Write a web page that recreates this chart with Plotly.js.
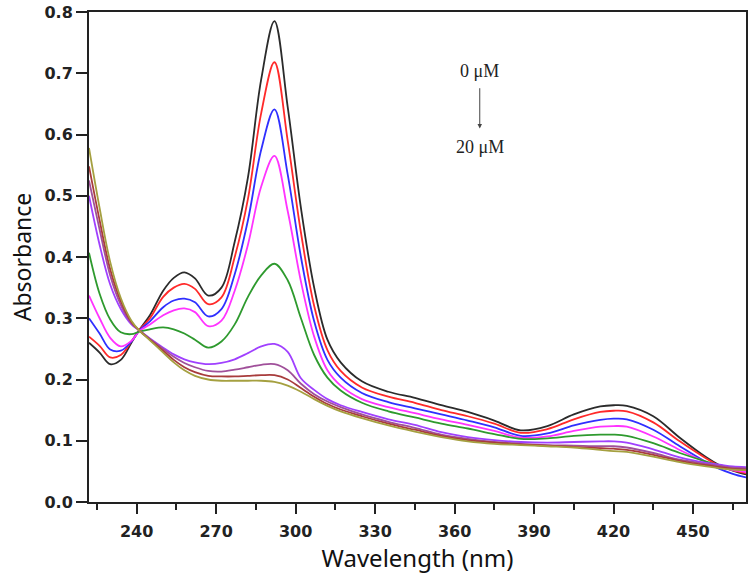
<!DOCTYPE html>
<html>
<head>
<meta charset="utf-8">
<script src="https://cdn.plot.ly/plotly-3.0.1.min.js"></script>
<style>html,body{margin:0;padding:0;background:#fff;}#chart{width:750px;height:577px;}</style>
</head>
<body>
<div id="chart"></div>
<script>
const wavelength = [222,226,230,234,238,241,245,250,254,258,262,267,272,277,282,287,292,297,302,307,312,317,325,335,345,355,365,375,385,395,405,415,420,425,435,445,455,460,465,470];

const conc0  = [0.260,0.244,0.225,0.232,0.260,0.281,0.305,0.345,0.366,0.375,0.365,0.337,0.350,0.425,0.530,0.690,0.785,0.645,0.480,0.350,0.265,0.228,0.197,0.180,0.170,0.158,0.147,0.133,0.117,0.124,0.143,0.156,0.158,0.157,0.140,0.105,0.073,0.060,0.051,0.045];
const conc1  = [0.270,0.255,0.236,0.240,0.262,0.281,0.300,0.335,0.350,0.356,0.348,0.323,0.334,0.400,0.495,0.635,0.718,0.590,0.440,0.320,0.248,0.214,0.187,0.172,0.162,0.150,0.140,0.128,0.113,0.119,0.135,0.147,0.149,0.148,0.130,0.099,0.071,0.059,0.052,0.047];
const conc2  = [0.300,0.275,0.249,0.247,0.262,0.280,0.295,0.318,0.329,0.332,0.326,0.303,0.315,0.372,0.460,0.575,0.641,0.535,0.400,0.295,0.232,0.203,0.178,0.163,0.153,0.143,0.133,0.122,0.108,0.112,0.125,0.134,0.136,0.135,0.118,0.091,0.065,0.054,0.046,0.040];
const conc3  = [0.337,0.300,0.268,0.254,0.263,0.279,0.290,0.305,0.313,0.316,0.310,0.287,0.296,0.345,0.420,0.515,0.565,0.475,0.360,0.270,0.215,0.190,0.168,0.155,0.145,0.135,0.126,0.116,0.105,0.107,0.116,0.123,0.124,0.123,0.107,0.085,0.065,0.057,0.052,0.049];
const conc4  = [0.407,0.340,0.298,0.277,0.274,0.278,0.282,0.285,0.282,0.275,0.265,0.252,0.262,0.290,0.335,0.370,0.389,0.362,0.300,0.240,0.203,0.182,0.162,0.148,0.138,0.128,0.120,0.111,0.103,0.104,0.108,0.110,0.110,0.108,0.096,0.080,0.066,0.060,0.056,0.055];
const conc5  = [0.500,0.420,0.355,0.315,0.290,0.280,0.267,0.252,0.241,0.233,0.228,0.225,0.227,0.233,0.243,0.254,0.258,0.245,0.202,0.183,0.168,0.158,0.147,0.135,0.126,0.114,0.106,0.101,0.098,0.097,0.098,0.099,0.099,0.097,0.086,0.073,0.064,0.061,0.058,0.057];
const conc6  = [0.525,0.445,0.370,0.322,0.292,0.280,0.266,0.250,0.237,0.227,0.220,0.214,0.213,0.216,0.220,0.224,0.225,0.215,0.193,0.176,0.164,0.155,0.143,0.131,0.121,0.110,0.103,0.098,0.095,0.093,0.092,0.091,0.091,0.089,0.080,0.069,0.062,0.059,0.056,0.055];
const conc7  = [0.548,0.460,0.380,0.328,0.294,0.280,0.265,0.247,0.232,0.220,0.212,0.206,0.205,0.205,0.206,0.207,0.207,0.200,0.186,0.172,0.160,0.151,0.140,0.128,0.118,0.108,0.101,0.097,0.094,0.092,0.090,0.088,0.087,0.085,0.077,0.067,0.060,0.057,0.054,0.053];
const conc8  = [0.578,0.480,0.392,0.333,0.296,0.280,0.264,0.244,0.228,0.215,0.206,0.200,0.198,0.198,0.198,0.198,0.196,0.190,0.180,0.168,0.157,0.148,0.137,0.125,0.115,0.106,0.099,0.095,0.093,0.091,0.089,0.085,0.083,0.082,0.074,0.065,0.058,0.055,0.053,0.052];

const seriesValues = [conc0,conc1,conc2,conc3,conc4,conc5,conc6,conc7,conc8];
const seriesNames = ['0 μM','2.5 μM','5 μM','7.5 μM','10 μM','12.5 μM','15 μM','17.5 μM','20 μM'];
const seriesColors = ['#2b2b2b','#ff2a2a','#2f2fff','#ff33ff','#2e9a2e','#a040ff','#a0509a','#a83c3c','#a5a040'];

const traces = seriesValues.map((v,i)=>({
  x: wavelength, y: v, type:'scatter', mode:'lines', name: seriesNames[i],
  line:{color: seriesColors[i], width:1.8, shape:'spline', smoothing:1}
}));

const xTickVals = [240,270,300,330,360,390,420,450];
const yTickVals = [0.0,0.1,0.2,0.3,0.4,0.5,0.6,0.7,0.8];

const tickFont = {family:'DejaVu Sans', size:16, color:'#222', weight:'bold'};

const layout = {
  width:750, height:577,
  margin:{l:89, r:4, t:12, b:75},
  paper_bgcolor:'#fff', plot_bgcolor:'#fff',
  showlegend:false,
  xaxis:{
    range:[222,470], showgrid:false, zeroline:false,
    showline:true, linecolor:'#222', linewidth:2, mirror:true,
    ticks:'outside', ticklen:10, tickwidth:2, tickcolor:'#222',
    tickvals:xTickVals, ticktext:xTickVals.map(String),
    ticklabelstandoff:4,
    minor:{dtick:15, tick0:225, ticks:'outside', ticklen:6, tickwidth:2, tickcolor:'#222'},
    tickfont:tickFont,
    title:{text:'Wavelength (nm)', font:{family:'Noto Sans', size:24, color:'#111'}, standoff:10}
  },
  yaxis:{
    range:[0,0.8], showgrid:false, zeroline:false,
    showline:true, linecolor:'#222', linewidth:2, mirror:true,
    ticks:'outside', ticklen:11, tickwidth:2, tickcolor:'#222',
    tickvals:yTickVals, ticktext:yTickVals.map(v=>v.toFixed(1)),
    tickfont:tickFont,
    title:{text:'Absorbance', font:{family:'Noto Sans', size:23, color:'#111'}, standoff:6}
  },
  annotations:[
    {x:369.5, y:0.704, xref:'x', yref:'y', text:'0 μM', showarrow:false,
     font:{family:'Liberation Serif', size:18, color:'#222'}},
    {x:369.5, y:0.579, xref:'x', yref:'y', text:'20 μM', showarrow:false,
     font:{family:'Liberation Serif', size:18, color:'#222'}},
    {x:369.5, y:0.610, ax:369.5, ay:0.678, xref:'x', yref:'y', axref:'x', ayref:'y',
     text:'', showarrow:true, arrowhead:2, arrowsize:0.9, arrowwidth:1, arrowcolor:'#444', standoff:0}
  ]
};

Plotly.newPlot('chart', traces, layout, {displayModeBar:false, staticPlot:true});
</script>
</body>
</html>
